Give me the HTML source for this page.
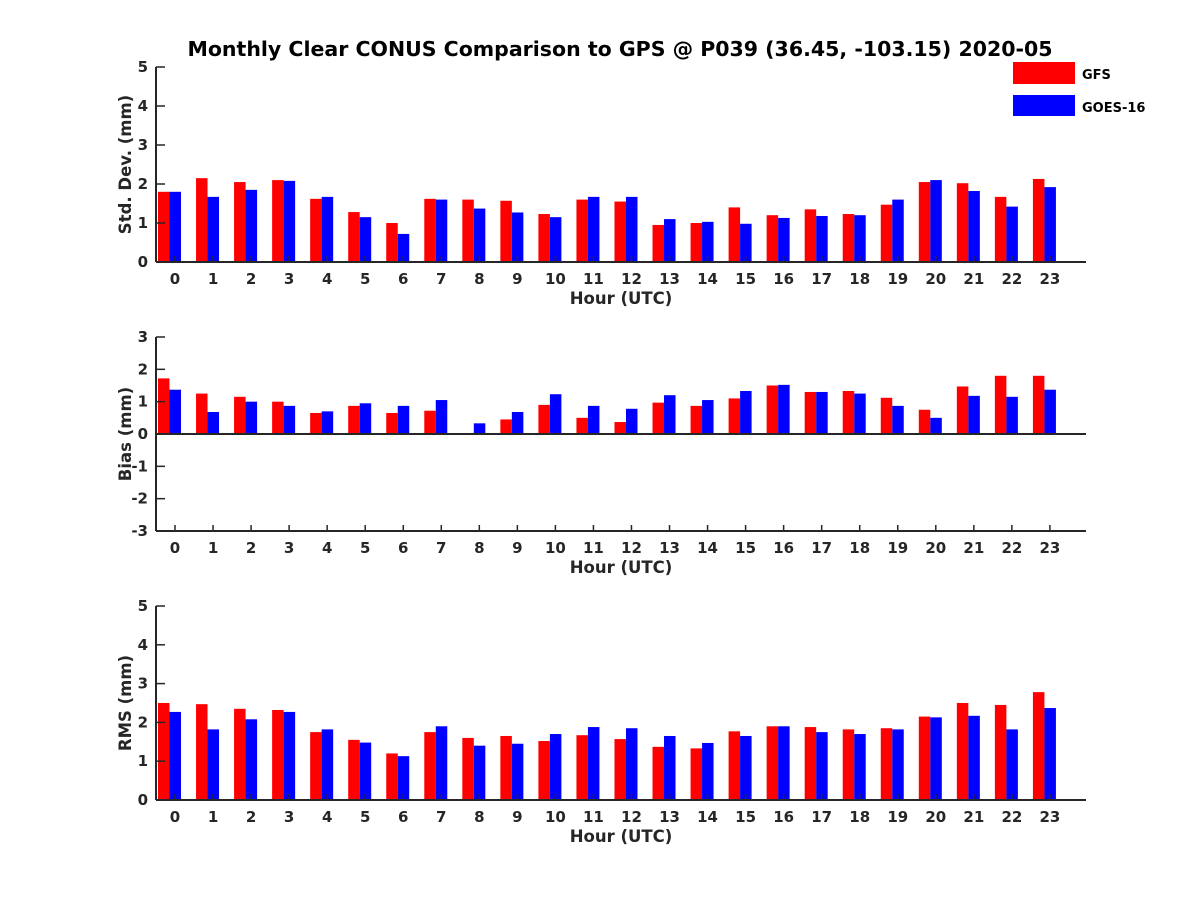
<!DOCTYPE html>
<html><head><meta charset="utf-8"><style>
body{margin:0;background:#fff;}
svg text{font-family:"DejaVu Sans","Liberation Sans",sans-serif;font-weight:bold;fill:#262626;}
</style></head><body>
<svg id="chart" width="1200" height="900" xmlns="http://www.w3.org/2000/svg">
<text x="620" y="56" font-size="20.5" text-anchor="middle" style="fill:#000">Monthly Clear CONUS Comparison to GPS @ P039 (36.45, -103.15) 2020-05</text>
<g>
<rect x="1013" y="62" width="62" height="22" fill="#ff0000"/>
<text x="1082" y="79" font-size="13" style="fill:#000">GFS</text>
<rect x="1013" y="95" width="62" height="21" fill="#0000ff"/>
<text x="1082" y="112" font-size="13" style="fill:#000">GOES-16</text>
</g>
</svg>
<script>
const hours=[0,1,2,3,4,5,6,7,8,9,10,11,12,13,14,15,16,17,18,19,20,21,22,23];
const stdGFS=[1.8,2.15,2.05,2.1,1.62,1.28,1.0,1.62,1.6,1.57,1.23,1.6,1.55,0.95,1.0,1.4,1.2,1.35,1.23,1.47,2.05,2.02,1.67,2.13];
const stdGOES=[1.8,1.67,1.85,2.08,1.67,1.15,0.72,1.6,1.37,1.27,1.15,1.67,1.67,1.1,1.03,0.98,1.13,1.18,1.2,1.6,2.1,1.82,1.42,1.92];
const biasGFS=[1.72,1.25,1.15,1.0,0.65,0.87,0.65,0.72,0,0.45,0.9,0.5,0.37,0.97,0.87,1.1,1.5,1.3,1.33,1.12,0.75,1.47,1.8,1.8];
const biasGOES=[1.37,0.68,1.0,0.87,0.7,0.95,0.87,1.05,0.33,0.68,1.23,0.87,0.78,1.2,1.05,1.33,1.52,1.3,1.25,0.87,0.5,1.18,1.15,1.37];
const rmsGFS=[2.5,2.47,2.35,2.32,1.75,1.55,1.2,1.75,1.6,1.65,1.52,1.67,1.57,1.37,1.33,1.77,1.9,1.88,1.82,1.85,2.15,2.5,2.45,2.78];
const rmsGOES=[2.27,1.82,2.08,2.27,1.82,1.48,1.13,1.9,1.4,1.45,1.7,1.88,1.85,1.65,1.47,1.65,1.9,1.75,1.7,1.82,2.13,2.17,1.82,2.37];
const stdTicks=[0,1,2,3,4,5];
const biasTicks=[-3,-2,-1,0,1,2,3];
const rmsTicks=[0,1,2,3,4,5];
const NS='http://www.w3.org/2000/svg';
const svg=document.getElementById('chart');
function mk(tag,attrs,parent){const e=document.createElementNS(NS,tag);for(const k in attrs)e.setAttribute(k,attrs[k]);(parent||svg).appendChild(e);return e;}
const xOf=h=>175+h*38.04;
function panel(name,top,bottom,ymin,ymax,ticks,gfs,goes,ylabel){
  const g=mk('g',{});
  
  
  const yOf=v=>bottom-(v-ymin)/(ymax-ymin)*(bottom-top);
  const y0=yOf(Math.max(0,ymin));
  hours.forEach((h,i)=>{
    const c=xOf(h);
    [[gfs[i],'#ff0000',c-17,'gfs'],[goes[i],'#0000ff',c-5.5,'goes16']].forEach(([v,col,x,s])=>{
      const yv=yOf(v);
      const r=mk('rect',{x:x,y:Math.min(yv,y0),width:11.5,height:Math.abs(y0-yv),fill:col},g);
      
      
    });
    const t=mk('text',{x:c,y:bottom+22,'font-size':15,'text-anchor':'middle'},g);
    
    
    t.textContent=h;
    mk('line',{x1:c,x2:c,y1:bottom,y2:bottom-6,stroke:'#262626','stroke-width':1.5},g);
  });
  ticks.forEach(v=>{
    const y=yOf(v);
    mk('line',{x1:156,x2:165,y1:y,y2:y,stroke:'#262626','stroke-width':1.5},g);
    const t=mk('text',{x:148,y:y+5,'font-size':15,'text-anchor':'end'},g);
    
    
    t.textContent=v;
  });
  if(ymin<0){mk('line',{x1:156,x2:1086,y1:y0,y2:y0,stroke:'#262626','stroke-width':2},g);}
  mk('line',{x1:156,x2:1086,y1:bottom,y2:bottom,stroke:'#262626','stroke-width':2},g);
  mk('line',{x1:156,x2:156,y1:top,y2:bottom,stroke:'#262626','stroke-width':2},g);
  const xl=mk('text',{x:621,y:bottom+42,'font-size':16.5,'text-anchor':'middle'},g);
  
  
  xl.textContent='Hour (UTC)';
  const yc=(top+bottom)/2;
  const yl=mk('text',{x:131,y:yc,'font-size':16.5,'text-anchor':'middle',transform:'rotate(-90 131 '+yc+')'},g);
  
  
  yl.textContent=ylabel;
}
panel('std',67,262,0,5,stdTicks,stdGFS,stdGOES,'Std. Dev. (mm)');
panel('bias',337,531,-3,3,biasTicks,biasGFS,biasGOES,'Bias (mm)');
panel('rms',606,800,0,5,rmsTicks,rmsGFS,rmsGOES,'RMS (mm)');
</script>
</body></html>
